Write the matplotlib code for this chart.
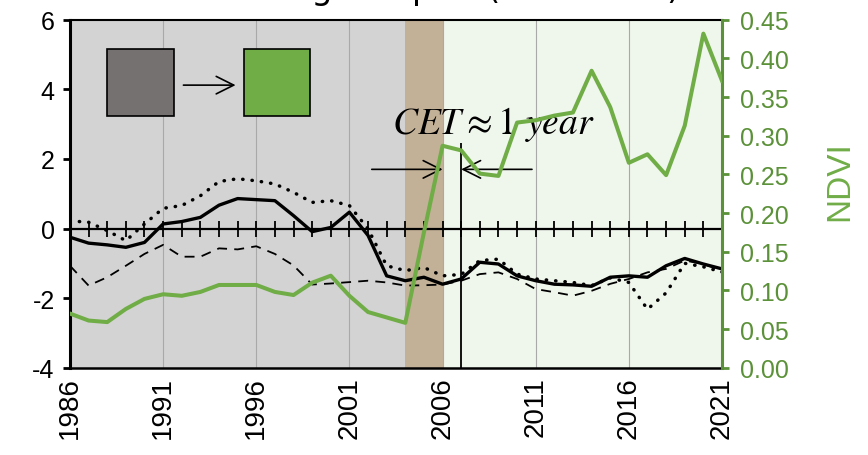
import numpy as np
import matplotlib
matplotlib.use("Agg")
import matplotlib.pyplot as plt
from matplotlib.patches import Rectangle, FancyArrowPatch
from matplotlib.ticker import FormatStrFormatter

plt.rcParams['font.family'] = ['Liberation Sans', 'DejaVu Sans']
plt.rcParams['axes.unicode_minus'] = False
plt.rcParams['mathtext.fontset'] = 'stix'

years = np.arange(1986, 2022)

# standardised index series (left axis)
solid = [-0.25, -0.42, -0.47, -0.54, -0.40, 0.13, 0.20, 0.32, 0.67, 0.86,
         0.83, 0.80, 0.37, -0.09, 0.03, 0.47, -0.20, -1.36, -1.50, -1.40,
         -1.60, -1.45, -0.97, -1.02, -1.36, -1.50, -1.60, -1.62, -1.66, -1.40,
         -1.36, -1.40, -1.07, -0.86, -1.02, -1.16]
dotted = [0.22, 0.18, -0.06, -0.35, 0.13, 0.58, 0.66, 0.94, 1.35, 1.43,
          1.37, 1.28, 1.04, 0.75, 0.80, 0.66, -0.01, -1.07, -1.21, -1.12,
          -1.36, -1.32, -0.92, -0.88, -1.31, -1.45, -1.50, -1.55, -1.64, -1.42,
          -1.55, -2.32, -1.85, -1.00, -1.10, -1.25]
dashed = [-1.07, -1.64, -1.40, -1.07, -0.73, -0.47, -0.81, -0.81, -0.57, -0.60,
          -0.51, -0.73, -1.06, -1.61, -1.58, -1.54, -1.50, -1.55, -1.64, -1.63,
          -1.61, -1.50, -1.31, -1.26, -1.45, -1.74, -1.83, -1.93, -1.79, -1.59,
          -1.45, -1.26, -1.16, -0.92, -1.02, -1.21]
# NDVI (right axis)
ndvi = [0.070, 0.061, 0.059, 0.076, 0.089, 0.095, 0.093, 0.098, 0.107, 0.107,
        0.107, 0.098, 0.094, 0.110, 0.119, 0.093, 0.072, 0.065, 0.058, 0.175,
        0.287, 0.281, 0.251, 0.248, 0.317, 0.320, 0.326, 0.330, 0.384, 0.337,
        0.265, 0.276, 0.249, 0.313, 0.432, 0.371]

# transition periods
before_end = 2004
change_end = 2006
cet_start, cet_end = 2006, 2007

year_ticks = np.arange(1986, 2022, 5)
left_ticks = np.arange(-4, 7, 2)
ndvi_ticks = np.arange(0, 0.451, 0.05)

green = '#70ad47'
green_dark = '#5b9138'

fig = plt.figure(figsize=(8.68, 4.56), dpi=100)
ax = fig.add_axes([0.0806, 0.1914, 0.7512, 0.7632])

ax.set_xlim(1986, 2021)
ax.set_ylim(-4, 6)

ax.axvspan(1986, before_end, color='#d3d3d3', lw=0, zorder=0.2)
ax.axvspan(before_end, change_end, color='#c3b197', lw=0, zorder=0.2)
ax.axvspan(change_end, 2021, color='#eff6eb', lw=0, zorder=0.2)
ax.set_axisbelow(True)
ax.grid(axis='x', color='#a9a9a9', lw=0.8)

ax.plot(years, dashed, color='black', lw=1.3, ls=(0, (5.5, 4)), zorder=3)
ax.plot(years, dotted, color='black', lw=2.5, ls=(0, (0.1, 2.6)),
        dash_capstyle='round', zorder=3)
ax.plot(years, solid, color='black', lw=2.4, zorder=3)

# zero line with yearly ticks
zero_ax = ax.secondary_xaxis((0 - (-4)) / 10)
zero_ax.set_zorder(2.5)
zero_ax.set_xticks(years)
zero_ax.tick_params(direction='inout', length=11, width=1.3,
                    labelbottom=False, labeltop=False)
zero_ax.spines['bottom'].set_linewidth(1.6)

ax.set_xticks(year_ticks)
ax.set_xticklabels([str(y) for y in year_ticks], rotation=90, fontsize=20)
ax.tick_params(axis='x', length=0, pad=6)
ax.set_yticks(left_ticks)
ax.tick_params(axis='y', labelsize=18, length=5, width=2, direction='out', pad=6)
for side, w in [('left', 2.2), ('bottom', 1.8), ('top', 1.5)]:
    ax.spines[side].set_linewidth(w)
    ax.spines[side].set_color('black')
ax.spines['right'].set_visible(False)

ax2 = ax.twinx()
ax2.set_ylim(0, 0.45)
ax2.plot(years, ndvi, color=green, lw=2.9, zorder=4)
ax2.set_yticks(ndvi_ticks)
ax2.yaxis.set_major_formatter(FormatStrFormatter('%.2f'))
ax2.tick_params(axis='y', labelsize=18, length=5, width=2, colors=green_dark, pad=8)
ax2.spines['right'].set_color(green_dark)
ax2.spines['right'].set_linewidth(2.2)
for side in ['left', 'top', 'bottom']:
    ax2.spines[side].set_visible(False)
ax2.set_ylabel('NDVI', color=green, fontsize=24, va='center', ha='center')
ax2.yaxis.set_label_coords(1.18, 0.54)

# CET marker
ax.vlines(cet_end, -4, 2.45, color='black', lw=1.3, zorder=5)
arrow_kw = dict(arrowstyle='->,head_length=0.9,head_width=0.45', color='black', lw=1.2)
ax.add_patch(FancyArrowPatch((2002.2, 1.7), (cet_start, 1.7), mutation_scale=14,
                             shrinkA=0, shrinkB=0, zorder=5, **arrow_kw))
ax.add_patch(FancyArrowPatch((2010.8, 1.7), (cet_end, 1.7), mutation_scale=14,
                             shrinkA=0, shrinkB=0, zorder=5, **arrow_kw))
ax.text(2003.3, 2.75, r'$CET \approx 1\ year$', fontsize=27, ha='left',
        va='baseline', zorder=6)

# land cover change symbol
ax.add_patch(Rectangle((0.057, 0.723), 0.103, 0.193, transform=ax.transAxes,
                       facecolor='#767171', edgecolor='black', lw=1.2, zorder=5))
ax.add_patch(Rectangle((0.267, 0.723), 0.101, 0.193, transform=ax.transAxes,
                       facecolor=green, edgecolor='black', lw=1.2, zorder=5))
ax.add_patch(FancyArrowPatch((0.174, 0.812), (0.254, 0.812), transform=ax.transAxes,
                             arrowstyle='->,head_length=0.9,head_width=0.45',
                             mutation_scale=14, color='black', lw=1.2,
                             shrinkA=0, shrinkB=0, zorder=5))

fig.text(0.21, 1 + 1.0 / 456, '\u2461 Bare-grass pair (Grassland)',
         fontsize=24, ha='left', va='baseline', family=['DejaVu Sans'])

fig.savefig('out.png', dpi=100)
